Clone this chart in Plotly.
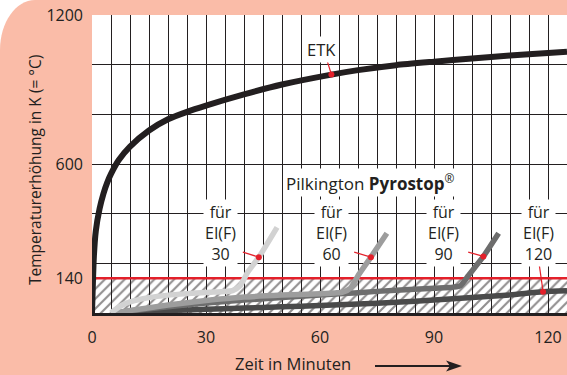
import plotly.graph_objects as go

# ---------------- data ----------------
etk_t = [0, 0.5, 1, 2, 3, 4, 5, 7, 10, 15, 20, 25, 30, 40, 50, 63, 70, 80, 90, 100, 110, 120, 125]
etk_T = [0, 230, 330, 420, 480, 525, 560, 615, 670, 735, 780, 810, 835, 880, 920, 960, 978, 998, 1012, 1025, 1037, 1047, 1052]

ei30_t = [5, 6, 8, 10, 15, 20, 25, 30, 35, 37, 39, 41, 43.9, 48.7]
ei30_T = [0, 12, 32, 45, 62, 72, 78, 83, 87, 90, 110, 165, 225, 345]

ei60_t = [6, 10, 20, 30, 40, 50, 60, 64, 66, 68, 70, 73.4, 77.6]
ei60_T = [0, 10, 32, 50, 64, 72, 78, 81, 84, 100, 150, 225, 321]

ei90_t = [6, 10, 20, 30, 40, 50, 60, 70, 80, 90, 95, 97, 99, 103, 107]
ei90_T = [0, 8, 25, 40, 52, 62, 72, 82, 92, 100, 104, 110, 150, 228, 321]

ei120_t = [6, 10, 20, 30, 40, 50, 60, 70, 80, 90, 100, 110, 118.7, 125]
ei120_T = [0, 4, 10, 15, 20, 25, 30, 36, 43, 52, 62, 73, 86, 90]

limit_T = 140
x_ticks = [0, 30, 60, 90, 120]
y_ticks = [140, 600, 1200]

# --------------- style ----------------
INK = "#231f20"
PEACH = "#fabca8"
RED = "#e3202a"
FONT = "Open Sans"

W, H = 567, 375
ML, MR, MT, MB = 92, 0, 15, 62
PW, PH = W - ML - MR, H - MT - MB


def px(x):
    return (x - ML) / PW


def py(y):
    return (H - MB - y) / PH


fig = go.Figure()

# hatched region below 140 with red limit line
fig.add_trace(go.Scatter(
    x=[0, 125], y=[limit_T, limit_T], mode="lines",
    line=dict(color=RED, width=2.5),
    fill="tozeroy", fillcolor="rgba(0,0,0,0)",
    fillpattern=dict(shape="/", fgcolor=INK, bgcolor="rgba(0,0,0,0)", size=7, solidity=0.3),
    hoverinfo="skip", showlegend=False))

series = [
    (ei120_t, ei120_T, "#4a4a4a"),
    (ei90_t, ei90_T, "#6d6d6d"),
    (ei60_t, ei60_T, "#9d9d9d"),
    (ei30_t, ei30_T, "#d2d2d2"),
    (etk_t, etk_T, INK),
]
for t, T, c in series:
    fig.add_trace(go.Scatter(x=t, y=T, mode="lines",
                             line=dict(color=c, width=6 if c == INK else 5.5, shape="spline", smoothing=0.6),
                             hoverinfo="skip", showlegend=False))

# pointer lines: (label-side start, index of point on the curve)
pointers = [
    ((61.8, 1020), etk_t, etk_T, 15),
    ((39.7, 245), ei30_t, ei30_T, 12),
    ((69.0, 245), ei60_t, ei60_T, 11),
    ((99.0, 245), ei90_t, ei90_T, 13),
    ((117.6, 205), ei120_t, ei120_T, 12),
]
for (sx, sy), t, T, i in pointers:
    fig.add_trace(go.Scatter(x=[sx, t[i]], y=[sy, T[i]], mode="lines",
                             line=dict(color=RED, width=1.2), hoverinfo="skip", showlegend=False))
    fig.add_trace(go.Scatter(x=[t[i]], y=[T[i]], mode="markers",
                             marker=dict(color=RED, size=6), hoverinfo="skip", showlegend=False))

# background shapes
r_x, r_y = 35, 50
path = (f"M {px(0)},{py(r_y)} C {px(0)},{py(r_y*0.45)} {px(r_x*0.45)},{py(0)} {px(r_x)},{py(0)} "
        f"L {px(W)},{py(0)} L {px(W)},{py(H)} L {px(0)},{py(H)} Z")
fig.add_shape(type="path", path=path, xref="paper", yref="paper",
              fillcolor=PEACH, line=dict(width=0), layer="below")
fig.add_shape(type="rect", x0=0, x1=125, y0=0, y1=1200, xref="x", yref="y",
              fillcolor="white", line=dict(width=0), layer="below")

# arrow next to the x-axis title
fig.add_shape(type="line", xref="paper", yref="paper",
              x0=px(375), x1=px(450), y0=py(366), y1=py(366),
              line=dict(color=INK, width=2.2))
fig.add_shape(type="path", xref="paper", yref="paper",
              path=f"M {px(446)},{py(360.5)} L {px(462)},{py(366)} L {px(446)},{py(371.5)} L {px(450)},{py(366)} Z",
              fillcolor=INK, line=dict(width=0))

labels = [
    (33.7, "30"), (62.9, "60"), (92.6, "90"), (117.6, "120"),
]
ann = []
for x, n in labels:
    ann.append(dict(x=x, y=322, xref="x", yref="y", text=f"für<br>EI(F)<br>{n}", showarrow=False,
                    font=dict(family=FONT, size=16, color=INK), bgcolor="white", borderpad=1,
                    align="center", xanchor="center", yanchor="middle"))
ann.append(dict(x=60.5, y=1062, xref="x", yref="y", text="ETK", showarrow=False,
                font=dict(family=FONT, size=16.5, color=INK), bgcolor="white", borderpad=1,
                xanchor="center", yanchor="middle"))
ann.append(dict(x=73.4, y=526, xref="x", yref="y",
                text="Pilkington <b>Pyrostop</b><sup>®</sup>", showarrow=False,
                font=dict(family=FONT, size=17, color=INK), bgcolor="white", borderpad=1,
                xanchor="center", yanchor="middle"))
ann.append(dict(x=px(293), y=py(363), xref="paper", yref="paper", text="Zeit in Minuten",
                showarrow=False, font=dict(family=FONT, size=16.5, color=INK),
                xanchor="center", yanchor="middle"))
ann.append(dict(x=px(35), y=py(170), xref="paper", yref="paper",
                text="Temperaturerhöhung in K (= °C)", textangle=-90, showarrow=False,
                font=dict(family=FONT, size=15.5, color=INK), xanchor="center", yanchor="middle"))

fig.update_layout(
    width=W, height=H,
    margin=dict(l=ML, r=MR, t=MT, b=MB),
    paper_bgcolor="white", plot_bgcolor="white",
    annotations=ann, showlegend=False,
    xaxis=dict(range=[0, 125], tickvals=x_ticks, ticktext=[str(v) for v in x_ticks],
               showgrid=True, gridcolor=INK, gridwidth=1.2,
               minor=dict(dtick=5, tick0=0, showgrid=True, gridcolor=INK, gridwidth=1.2),
               showline=True, linecolor=INK, linewidth=3, zeroline=False, ticks="",
               tickfont=dict(family=FONT, size=16, color=INK), ticklabelstandoff=8,
               automargin=False, layer="above traces"),
    yaxis=dict(range=[0, 1200], tickvals=y_ticks, ticktext=[str(v) for v in y_ticks],
               showgrid=True, gridcolor=INK, gridwidth=1.2,
               minor=dict(dtick=200, tick0=0, showgrid=True, gridcolor=INK, gridwidth=1.2),
               showline=False, zeroline=False, ticks="", automargin=False,
               tickfont=dict(family=FONT, size=16, color=INK), ticklabelstandoff=8),
)

fig.write_html("out.html", config={"displayModeBar": False},
               post_script="document.body.style.margin='0';document.body.style.padding='0';"
                           "document.body.style.overflow='hidden';")
